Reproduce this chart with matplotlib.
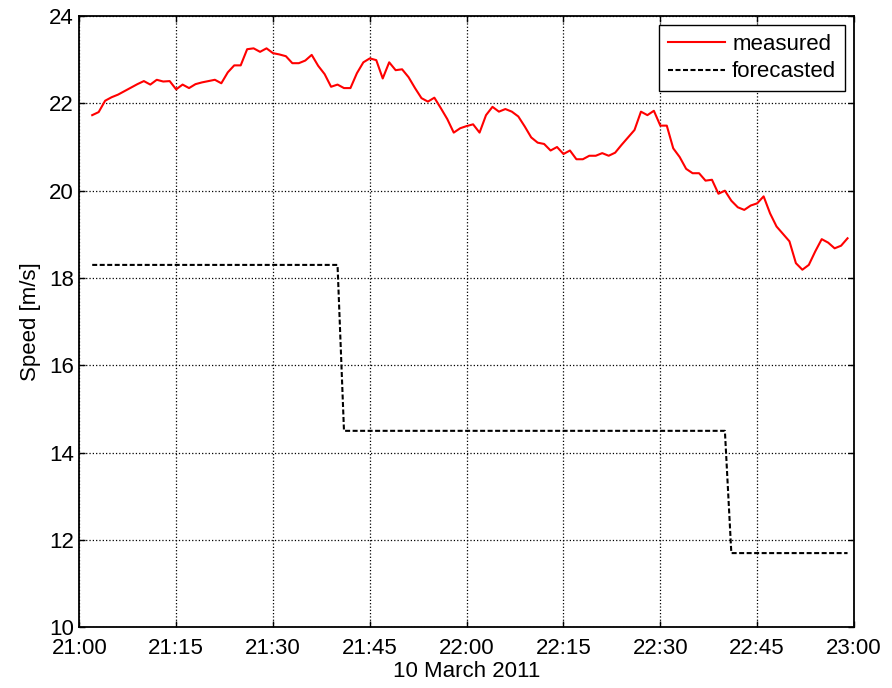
import numpy as np
import pandas as pd
import matplotlib
matplotlib.use('Agg')
import matplotlib.pyplot as plt
import matplotlib.dates as mdates

plt.rcParams['font.family'] = ['Liberation Sans', 'DejaVu Sans']

# wind speed, one sample per minute starting 21:02
minutes = np.arange(2, 120)
measured = [21.73, 21.80, 22.06, 22.14, 22.20, 22.28, 22.36, 22.44, 22.51, 22.43,
            22.54, 22.50, 22.51, 22.32, 22.43, 22.35, 22.44, 22.48, 22.51, 22.54,
            22.46, 22.71, 22.87, 22.87, 23.24, 23.26, 23.18, 23.26, 23.15, 23.12,
            23.08, 22.92, 22.92, 22.98, 23.11, 22.86, 22.67, 22.38, 22.43, 22.35,
            22.35, 22.69, 22.94, 23.03, 22.99, 22.57, 22.94, 22.76, 22.78, 22.60,
            22.35, 22.12, 22.04, 22.13, 21.89, 21.64, 21.33, 21.43, 21.48, 21.52,
            21.33, 21.73, 21.92, 21.81, 21.87, 21.81, 21.70, 21.47, 21.22, 21.10,
            21.07, 20.92, 21.00, 20.84, 20.92, 20.72, 20.72, 20.80, 20.80, 20.86,
            20.80, 20.87, 21.05, 21.22, 21.39, 21.81, 21.73, 21.83, 21.49, 21.49,
            20.97, 20.77, 20.50, 20.40, 20.40, 20.23, 20.25, 19.93, 20.00, 19.77,
            19.62, 19.56, 19.66, 19.71, 19.87, 19.48, 19.18, 19.01, 18.84, 18.34,
            18.19, 18.30, 18.61, 18.89, 18.81, 18.68, 18.74, 18.91]

# forecast issued in blocks: (first minute, last minute, value)
forecast_blocks = [(2, 40, 18.3), (41, 100, 14.5), (101, 119, 11.7)]
forecasted = np.concatenate([np.full(b - a + 1, v) for a, b, v in forecast_blocks])

t0 = pd.Timestamp('2011-03-10 21:00')
times = t0 + pd.to_timedelta(minutes, unit='min')

fig = plt.figure(figsize=(8.92, 6.88), dpi=100)
ax = fig.add_axes([0.0889, 0.0882, 0.8685, 0.8885])

ax.plot(times, measured, color='red', lw=1.5, label='measured')
ax.plot(times, forecasted, color='black', lw=1.5, dashes=(2.4, 1.2), label='forecasted')

ax.set_xlim(t0, t0 + pd.Timedelta(hours=2))
ax.set_ylim(10, 24)
ax.set_yticks(np.arange(10, 25, 2))
ax.xaxis.set_major_locator(mdates.MinuteLocator(byminute=[0, 15, 30, 45]))
ax.xaxis.set_major_formatter(mdates.DateFormatter('%H:%M'))

ax.grid(True, color='black', linestyle=':', linewidth=0.9)
ax.tick_params(direction='in', top=True, right=True, length=4, width=1,
               labelsize=16, pad=4)
ax.tick_params(axis='x', pad=8)
for s in ax.spines.values():
    s.set_linewidth(1.3)

ax.set_xlabel('10 March 2011', fontsize=16, labelpad=1)
ax.set_ylabel('Speed [m/s]', fontsize=16, labelpad=6)

leg = ax.legend(loc='upper right', fontsize=16, fancybox=False, framealpha=1,
                edgecolor='black', handlelength=2.6, handletextpad=0.3,
                borderpad=0.4, labelspacing=0.3, borderaxespad=0.4)
leg.get_frame().set_linewidth(1.0)

fig.savefig('out.png', dpi=100)
